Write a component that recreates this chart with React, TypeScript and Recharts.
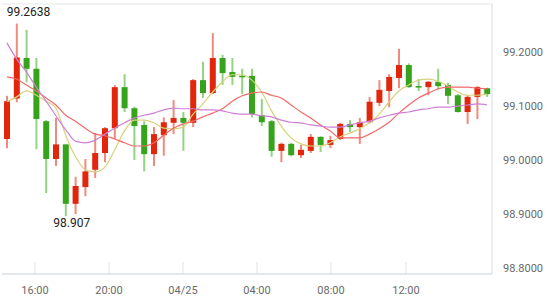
import { ComposedChart, Bar, Line, XAxis, YAxis, CartesianGrid, ReferenceDot } from "recharts";

// 30-min candles, prices
const OPEN = [
  99.05, 99.125, 99.2, 99.18, 99.083, 99.013, 99.04, 98.93, 98.961, 98.993,
  99.024, 99.07, 99.146, 99.107, 99.076, 99.022, 99.057, 99.08, 99.089, 99.08,
  99.159, 99.135, 99.2, 99.174, 99.167, 99.167, 99.094, 99.083, 99.028, 99.041,
  99.02, 99.028, 99.054, 99.039, 99.05, 99.078, 99.072, 99.081, 99.117, 99.139,
  99.163, 99.187, 99.148, 99.146, 99.156, 99.15, 99.131, 99.1, 99.128, 99.144,
];
const CLOSE = [
  99.12, 99.201, 99.18, 99.087, 99.013, 99.04, 98.93, 98.963, 98.99, 99.024,
  99.07, 99.146, 99.107, 99.074, 99.022, 99.059, 99.081, 99.089, 99.08, 99.159,
  99.135, 99.2, 99.172, 99.165, 99.165, 99.096, 99.081, 99.028, 99.041, 99.02,
  99.03, 99.054, 99.039, 99.048, 99.078, 99.072, 99.081, 99.119, 99.141, 99.165,
  99.187, 99.146, 99.146, 99.156, 99.148, 99.13, 99.1, 99.128, 99.146, 99.133,
];
const HIGH = [
  99.13, 99.2638, 99.252, 99.2, 99.085, 99.089, 99.04, 98.98, 99.013, 99.061,
  99.072, 99.15, 99.17, 99.11, 99.083, 99.072, 99.09, 99.122, 99.1, 99.161,
  99.193, 99.246, 99.206, 99.2, 99.18, 99.18, 99.124, 99.085, 99.043, 99.043,
  99.039, 99.059, 99.055, 99.056, 99.08, 99.085, 99.089, 99.128, 99.159, 99.17,
  99.217, 99.19, 99.161, 99.157, 99.18, 99.154, 99.133, 99.131, 99.148, 99.145,
];
const LOW = [
  99.033, 99.118, 99.155, 99.031, 98.95, 99.0, 98.907, 98.911, 98.944, 98.978,
  99.007, 99.05, 99.1, 99.011, 98.99, 99.0, 99.019, 99.059, 99.028, 99.072,
  99.126, 99.133, 99.15, 99.15, 99.133, 99.09, 99.074, 99.017, 99.007, 99.018,
  99.015, 99.024, 99.026, 99.033, 99.048, 99.063, 99.041, 99.079, 99.111, 99.109,
  99.144, 99.145, 99.139, 99.131, 99.141, 99.115, 99.099, 99.078, 99.087, 99.128,
];

// moving averages (short / mid / long)
const MA_SHORT = [
  99.119, 99.128, 99.139, 99.131, 99.12, 99.107, 99.057, 99.017, 98.993, 98.989,
  98.998, 99.03, 99.065, 99.085, 99.085, 99.08, 99.07, 99.069, 99.072, 99.096,
  99.115, 99.137, 99.156, 99.169, 99.169, 99.159, 99.137, 99.102, 99.074, 99.052,
  99.041, 99.037, 99.037, 99.043, 99.054, 99.061, 99.069, 99.08, 99.096, 99.119,
  99.139, 99.15, 99.159, 99.161, 99.157, 99.148, 99.137, 99.131, 99.131, 99.133,
];
const MA_MID = [
  99.165, 99.161, 99.15, 99.139, 99.126, 99.113, 99.094, 99.083, 99.07, 99.059,
  99.056, 99.05, 99.043, 99.037, 99.037, 99.043, 99.057, 99.07, 99.078, 99.083,
  99.091, 99.098, 99.106, 99.12, 99.13, 99.135, 99.137, 99.131, 99.126, 99.113,
  99.1, 99.089, 99.076, 99.065, 99.052, 99.052, 99.052, 99.059, 99.069, 99.081,
  99.098, 99.113, 99.126, 99.135, 99.143, 99.146, 99.146, 99.146, 99.144, 99.143,
];
const MA_LONG = [
  99.228, 99.198, 99.174, 99.146, 99.12, 99.093, 99.067, 99.046, 99.043, 99.048,
  99.059, 99.07, 99.08, 99.089, 99.094, 99.098, 99.104, 99.107, 99.106, 99.106,
  99.104, 99.104, 99.102, 99.098, 99.096, 99.096, 99.093, 99.091, 99.085, 99.081,
  99.08, 99.076, 99.074, 99.072, 99.072, 99.076, 99.08, 99.083, 99.089, 99.094,
  99.098, 99.1, 99.104, 99.106, 99.109, 99.109, 99.111, 99.113, 99.115, 99.113,
];

// time axis: positions in candle-index units (candle i is centred on i)
const TIME_TICKS = [2.87, 10.42, 17.97, 25.52, 33.07, 40.72];
const TIME_LABELS = ["16:00", "20:00", "04/25", "04:00", "08:00", "12:00"];
const PRICE_TICKS = [98.8, 98.9, 99.0, 99.1, 99.2, 99.3];

const UP = "#e2260c";
const UP_WICK = "#f08a7c";
const DOWN = "#36a31c";
const DOWN_WICK = "#93d484";
const FONT = "Roboto, sans-serif";

const data = OPEN.map((o, i) => ({
  i,
  open: o,
  close: CLOSE[i],
  high: HIGH[i],
  low: LOW[i],
  range: [LOW[i], HIGH[i]],
  maShort: MA_SHORT[i],
  maMid: MA_MID[i],
  maLong: MA_LONG[i],
}));

const maxIdx = HIGH.indexOf(Math.max(...HIGH));
const minIdx = LOW.indexOf(Math.min(...LOW));

const Candle = (props: any) => {
  const { x, y, width, height, payload } = props;
  if (!payload || height == null) return null;
  const { open, close, high, low } = payload;
  const up = close >= open;
  const top = Math.min(y, y + height);
  const h = Math.abs(height);
  const k = h / (high - low);
  const bodyTop = top + (high - Math.max(open, close)) * k;
  const bodyH = Math.max(1.5, Math.abs(open - close) * k);
  const cx = x + width / 2;
  return (
    <g>
      <rect x={cx - 1} y={top} width={2} height={h} fill={up ? UP_WICK : DOWN_WICK} />
      <rect x={x} y={bodyTop} width={width} height={bodyH} fill={up ? UP : DOWN} />
    </g>
  );
};

const PriceTick = (props: any) => {
  const { x, y, payload } = props;
  if (payload.value >= 99.3) return null;
  return (
    <text x={x} y={y - 6} textAnchor="start" dominantBaseline="central" fill="#6a6a6a" fontSize={11} fontFamily={FONT}>
      {payload.value.toFixed(4)}
    </text>
  );
};

// tick marks point up into the plot, label sits below the axis
const TimeTick = (props: any) => {
  const { x, y, payload } = props;
  const idx = TIME_TICKS.indexOf(payload.value);
  return (
    <g>
      <line x1={x} x2={x} y1={y - 12} y2={y - 24} stroke="#dde3eb" />
      <text x={x} y={y} dy="0.71em" textAnchor="middle" fill="#6a6a6a" fontSize={11} fontFamily={FONT}>
        {TIME_LABELS[idx]}
      </text>
    </g>
  );
};

const App = () => {
  return (
    <div style={{ position: "absolute", left: 0, top: 0, width: 550, height: 303, background: "#fff" }}>
      <ComposedChart width={550} height={303} data={data} margin={{ top: 4, right: 0, bottom: 0, left: 2 }}>
        <CartesianGrid vertical={false} stroke="#e6e6e6" />
        <XAxis
          xAxisId="t"
          dataKey="i"
          type="number"
          domain={[-0.5, 49.5]}
          allowDataOverflow
          ticks={TIME_TICKS}
          interval={0}
          height={29}
          tickSize={0}
          tickMargin={12}
          axisLine={{ stroke: "#d3dbe7" }}
          tickLine={false}
          tick={<TimeTick />}
        />
        <XAxis dataKey="i" xAxisId="c" type="category" height={0} hide />
        <YAxis yAxisId="l" orientation="left" width={0} domain={[98.8, 99.3]} tick={false} tickLine={false} axisLine={{ stroke: "#e2e6ec" }} />
        <YAxis
          yAxisId="p"
          orientation="right"
          width={58}
          domain={[98.8, 99.3]}
          ticks={PRICE_TICKS}
          interval={0}
          tickSize={0}
          tickMargin={11}
          tickLine={false}
          axisLine={{ stroke: "#d3dbe7" }}
          tick={<PriceTick />}
        />
        <Bar xAxisId="c" yAxisId="p" dataKey="range" barSize={6} shape={<Candle />} isAnimationActive={false} />
        <Line xAxisId="c" yAxisId="p" type="monotone" dataKey="maShort" stroke="#d7d27c" strokeWidth={1.2} dot={false} activeDot={false} isAnimationActive={false} />
        <Line xAxisId="c" yAxisId="p" type="monotone" dataKey="maMid" stroke="#f46868" strokeWidth={1.2} dot={false} activeDot={false} isAnimationActive={false} />
        <Line xAxisId="c" yAxisId="p" type="monotone" dataKey="maLong" stroke="#cf80d6" strokeWidth={1.2} dot={false} activeDot={false} isAnimationActive={false} />
        <ReferenceDot
          xAxisId="c"
          yAxisId="p"
          x={maxIdx}
          y={HIGH[maxIdx]}
          r={0}
          ifOverflow="visible"
          shape={(p: any) => (
            <text x={p.cx - 10} y={p.cy - 8} fill="#222" fontSize={12} fontFamily={FONT}>
              {HIGH[maxIdx]}
            </text>
          )}
        />
        <ReferenceDot
          xAxisId="c"
          yAxisId="p"
          x={minIdx}
          y={LOW[minIdx]}
          r={0}
          ifOverflow="visible"
          shape={(p: any) => (
            <text x={p.cx + 6} y={p.cy + 11} textAnchor="middle" fill="#222" fontSize={12} fontFamily={FONT}>
              {LOW[minIdx]}
            </text>
          )}
        />
      </ComposedChart>
    </div>
  );
};

export default App;
